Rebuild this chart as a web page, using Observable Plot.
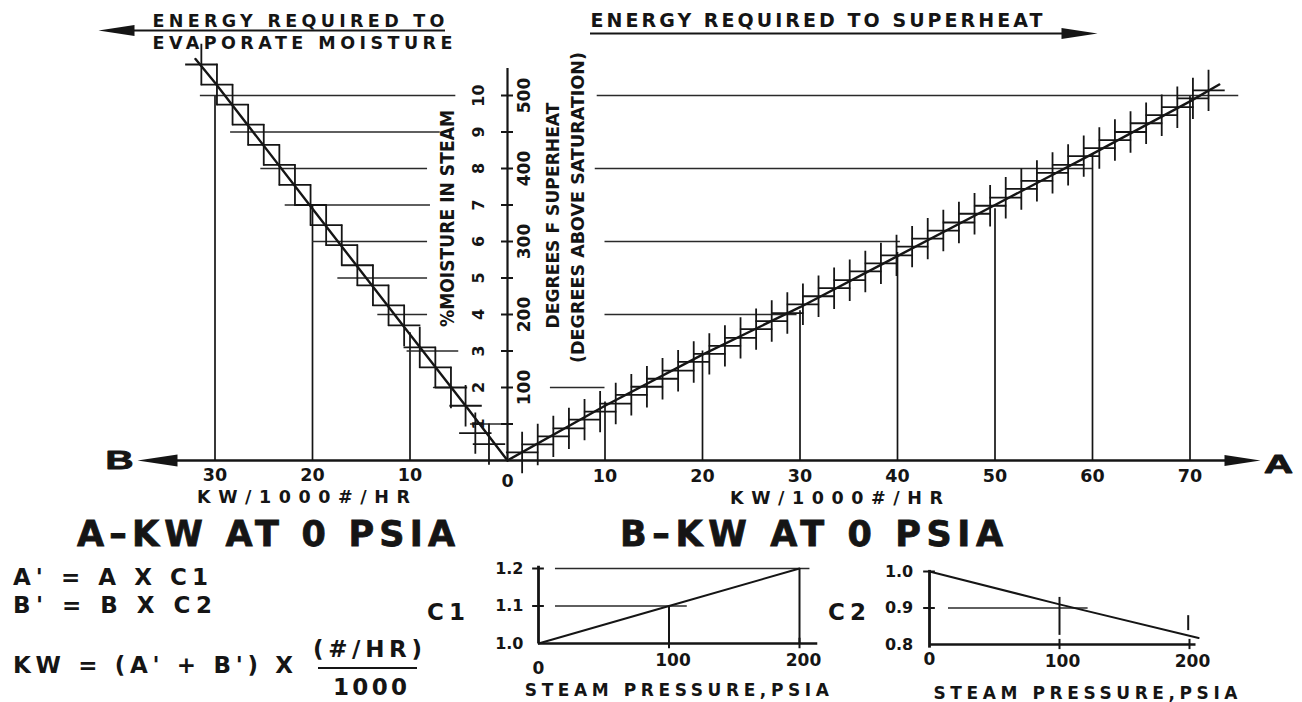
<!DOCTYPE html>
<html>
<head>
<meta charset="utf-8">
<script src="https://cdn.jsdelivr.net/npm/d3@7"></script>
<script src="https://cdn.jsdelivr.net/npm/@observablehq/plot@0.6"></script>
<style>
  html, body { margin: 0; padding: 0; background: #fff; }
  #page { position: relative; width: 1302px; height: 702px; overflow: hidden; background: #fff; }
  #page svg { position: absolute; }
  .lbl { position: absolute; white-space: nowrap; line-height: 1; font-family: "DejaVu Sans", "Liberation Sans", sans-serif; font-weight: bold; color: #151515; }
  .big { -webkit-text-stroke: 0.8px #151515; }
  .bar { position: absolute; background: #151515; }
</style>
</head>
<body>
<div id="page"></div>
<script>
// ---------------- DATA ----------------
// Right side (A): energy to superheat, KW per 1000 #/hr vs degrees F superheat
const superheatKW   = [0, 10, 20, 30, 40, 50, 60, 70, 73];
const superheatDegF = [0, 75, 145, 210, 280, 350, 420, 492, 515];
// Left side (B): energy to evaporate moisture, KW per 1000 #/hr vs % moisture
const moistureKW  = [0, 4, 10, 20, 30, 32];
const moisturePct = [0, 1.4, 3.45, 6.9, 10.35, 11.0];
// tick labels
const kwTicksA = [0, 10, 20, 30, 40, 50, 60, 70];
const kwTicksB = [10, 20, 30];
const moistureTicks = [1, 2, 3, 4, 5, 6, 7, 8, 9, 10];
const superheatTicks = [100, 200, 300, 400, 500];
// vertical reading guides (kW -> value on curve)
const guideAKW   = [10, 20, 30, 40, 50, 60, 70];
const guideADegF = [80, 150, 205, 285, 345, 420, 500];
const guideBKW   = [10, 20, 30];
const guideBPct  = [3.5, 7.0, 10.0];
// horizontal reading guides
const hGuideADegF = [100, 200, 300, 400, 500];
const hGuideAFrom = [4.4, 10, 10, 9, 9.2];
const hGuideATo   = [10, 29.7, 40.3, 60, 75];
const hGuideBPct  = [10, 9, 8, 7, 6, 5, 4, 3, 2, 1];
const hGuideBFrom = [31.5, 28.4, 25.3, 22.8, 20, 17.4, 13.3, 10.3, 7.6, 3.8];
const hGuideBTo   = [5.3, 6.9, 8.2, 7.9, 8.2, 8.2, 8.2, 5.0, 5.5, 0];
// hatch crosses along the curves
const crossAKW = [1.5,3.1,4.7,6.3,7.9,9.5,11.1,12.7,14.3,15.9,17.5,19.1,20.7,22.3,23.9,25.5,27.1,28.7,30.3,31.9,33.5,35.1,36.7,38.3,39.9,41.5,43.1,44.7,46.3,47.9,49.5,51.1,52.7,54.3,55.9,57.5,59.1,60.7,62.3,63.9,65.5,67.1,68.7,70.3,71.9];
const crossADegF = [11,22,33,44,56,67,78,90,101,112,123,135,146,157,168,180,191,202,214,225,236,247,259,270,281,293,304,315,326,338,349,360,372,383,394,405,417,428,439,450,462,473,484,496,507];
const crossBKW  = [31.4,29.8,28.2,26.6,25.0,23.4,21.8,20.2,18.6,17.0,15.4,13.8,12.2,10.6,9.0,7.4,5.8,4.3,3.3,1.9];
const crossBPct = [10.85,10.3,9.75,9.2,8.65,8.1,7.55,7.0,6.45,5.9,5.35,4.8,4.25,3.7,3.1,2.55,2.0,1.5,0.75,0.45];
// correction factor C1 vs steam pressure
const c1Pressure = [0, 100, 200];
const c1Values   = [1.0, 1.1, 1.2];
const c1Ticks    = [1.0, 1.1, 1.2];
const c1GuideLevel = [1.2, 1.1];
const c1GuideFrom  = [13, 13];
const c1GuideTo    = [208, 114];
const c1DropP = [100, 200];
const c1DropC = [1.1, 1.2];
// correction factor C2 vs steam pressure
const c2Pressure = [0, 100, 207];
const c2Values   = [1.0, 0.91, 0.818];
const c2Ticks    = [0.8, 0.9, 1.0];
const c2GuideLevel = [0.9];
const c2GuideFrom  = [14.6];
const c2GuideTo    = [122];
const c2DropP  = [100, 199];
const c2DropC1 = [0.825, 0.838];
const c2DropC2 = [0.929, 0.879];
const pressureTicks = [0, 100, 200];

// ---------------- tables ----------------
const superheat = superheatKW.map((kw, i) => ({kw, f: superheatDegF[i]}));
const moisture = moistureKW.map((kw, i) => ({kw, m: moisturePct[i]}));
const guideA = guideAKW.map((kw, i) => ({kw, f: guideADegF[i]}));
const guideB = guideBKW.map((kw, i) => ({kw, m: guideBPct[i]}));
const hGuideA = hGuideADegF.map((f, i) => ({f, from: hGuideAFrom[i], to: hGuideATo[i]}));
const hGuideB = hGuideBPct.map((m, i) => ({m, from: hGuideBFrom[i], to: hGuideBTo[i]}));
const crossA = crossAKW.map((kw, i) => ({kw, f: crossADegF[i]}));
const crossB = crossBKW.map((kw, i) => ({kw, m: crossBPct[i]}));
const c1Curve = c1Pressure.map((p, i) => ({p, c: c1Values[i]}));
const c1Guides = c1GuideLevel.map((c, i) => ({c, from: c1GuideFrom[i], to: c1GuideTo[i]}));
const c1Drops = c1DropP.map((p, i) => ({p, c: c1DropC[i]}));
const c2Curve = c2Pressure.map((p, i) => ({p, c: c2Values[i]}));
const c2Guides = c2GuideLevel.map((c, i) => ({c, from: c2GuideFrom[i], to: c2GuideTo[i]}));
const c2Drops = c2DropP.map((p, i) => ({p, c1: c2DropC1[i], c2: c2DropC2[i]}));

// ---------------- styles / layout ----------------
const INK = "#151515";
const chartFont = "'DejaVu Sans', 'Liberation Sans', sans-serif";
const X0 = 507, Y0 = 460, KX = 9.75, KY = 36.5, MAIN_H = 515;
const kx = px => (px - X0) / KX;     // page px -> kW
const my = py => (Y0 - py) / KY;     // page py -> % moisture
const DEG = 50;                      // degrees F per % moisture on the shared axis

const plusSymbol = {draw(ctx, size) {
  const r = Math.sqrt(size / Math.PI);
  ctx.moveTo(-0.9 * r, 0); ctx.lineTo(0.9 * r, 0);
  ctx.moveTo(0, -1.15 * r); ctx.lineTo(0, 1.15 * r);
}};
const arrowRight = {draw(ctx, size) {
  const r = Math.sqrt(size / Math.PI);
  ctx.moveTo(r, 0); ctx.lineTo(-r, -0.3 * r); ctx.lineTo(-r, 0.3 * r); ctx.closePath();
}};
const arrowLeft = {draw(ctx, size) {
  const r = Math.sqrt(size / Math.PI);
  ctx.moveTo(-r, 0); ctx.lineTo(r, -0.3 * r); ctx.lineTo(r, 0.3 * r); ctx.closePath();
}};

const fitWidth = {
  "ENERGY REQUIRED TO": 292, "EVAPORATE MOISTURE": 300, "ENERGY REQUIRED TO SUPERHEAT": 452,
  "KW/1000#/HR": 213, "%MOISTURE IN STEAM": 217, "DEGREES F SUPERHEAT": 226,
  "(DEGREES ABOVE SATURATION)": 311, "STEAM PRESSURE,PSIA": 304, "B": 28, "A": 29
};
const groupWidth = {"kw-ticks": s => 31, "c-ticks": s => 35, "p-ticks": s => 48};

function fit(svg) {
  svg.querySelectorAll("text").forEach(t => {
    const s = t.textContent;
    let w = fitWidth[s];
    const g = t.closest("g[aria-label]");
    const lab = g ? g.getAttribute("aria-label") : "";
    if (groupWidth[lab]) w = s.length > 1 ? groupWidth[lab](s) : null;
    if (!w) return;
    const nat = t.getComputedTextLength();
    t.setAttribute("textLength", w);
    t.setAttribute("lengthAdjust", (nat > w || s.length === 1) ? "spacingAndGlyphs" : "spacing");
  });
}

const baseStyle = {fontFamily: chartFont, fontWeight: "bold", color: INK, background: "transparent", overflow: "visible"};
const page = document.getElementById("page");

// ---------------- main nomograph ----------------
const main = Plot.plot({
  width: 1302, height: MAIN_H, margin: 0,
  x: {domain: [kx(0), kx(1302)], axis: null},
  y: {domain: [my(MAIN_H), my(0)], axis: null},
  style: baseStyle,
  marks: [
    Plot.ruleX(guideA, {x: "kw", y1: 0, y2: d => d.f / DEG, stroke: INK, strokeWidth: 1.7}),
    Plot.ruleX(guideB, {x: d => -d.kw, y1: 0, y2: "m", stroke: INK, strokeWidth: 1.7}),
    Plot.ruleY(hGuideA, {y: d => d.f / DEG, x1: "from", x2: "to", stroke: "#2a2a2a", strokeWidth: 1.4}),
    Plot.ruleY(hGuideB, {y: "m", x1: d => -d.from, x2: d => -d.to, stroke: "#2a2a2a", strokeWidth: 1.4}),
    Plot.dot(crossA, {x: "kw", y: d => d.f / DEG, symbol: plusSymbol, r: 18, fill: "none", stroke: INK, strokeWidth: 1.8}),
    Plot.dot(crossB, {x: d => -d.kw, y: "m", symbol: plusSymbol, r: 18, fill: "none", stroke: INK, strokeWidth: 1.8}),
    Plot.line(superheat, {x: "kw", y: d => d.f / DEG, stroke: INK, strokeWidth: 2.4}),
    Plot.line(moisture, {x: d => -d.kw, y: "m", stroke: INK, strokeWidth: 2.4}),
    // axes
    Plot.ruleY([0], {x1: kx(177), x2: kx(1226), stroke: INK, strokeWidth: 2.4}),
    Plot.ruleX([0], {y1: 0, y2: my(68), stroke: INK, strokeWidth: 2.2}),
    Plot.ruleY(moistureTicks, {x1: kx(501), x2: kx(513), stroke: INK, strokeWidth: 2}),
    Plot.dot([0], {x: kx(157), y: 0, symbol: arrowLeft, r: 20, fill: INK, stroke: "none"}),
    Plot.dot([0], {x: kx(1242), y: 0, symbol: arrowRight, r: 18, fill: INK, stroke: "none"}),
    // top arrows
    Plot.ruleY([0], {y: my(30), x1: kx(130), x2: kx(445), stroke: INK, strokeWidth: 2}),
    Plot.dot([0], {x: kx(116), y: my(30), symbol: arrowLeft, r: 18, fill: INK, stroke: "none"}),
    Plot.ruleY([0], {y: my(33), x1: kx(590), x2: kx(1066), stroke: INK, strokeWidth: 2}),
    Plot.dot([0], {x: kx(1079), y: my(33), symbol: arrowRight, r: 18, fill: INK, stroke: "none"}),
    // texts
    Plot.text(["ENERGY REQUIRED TO"], {x: kx(152), y: my(26), text: d => d, textAnchor: "start", lineAnchor: "bottom", fontSize: 17.5, fill: INK}),
    Plot.text(["EVAPORATE MOISTURE"], {x: kx(152), y: my(48), text: d => d, textAnchor: "start", lineAnchor: "bottom", fontSize: 17.5, fill: INK}),
    Plot.text(["ENERGY REQUIRED TO SUPERHEAT"], {x: kx(590), y: my(26), text: d => d, textAnchor: "start", lineAnchor: "bottom", fontSize: 19, fill: INK}),
    Plot.text(kwTicksA.filter(d => d > 0), {x: d => d, y: my(476), text: d => String(d), fontSize: 17.5, fill: INK, ariaLabel: "kw-ticks"}),
    Plot.text(kwTicksA.filter(d => d === 0), {x: d => d, y: my(481), text: d => String(d), fontSize: 17.5, fill: INK, ariaLabel: "kw-ticks"}),
    Plot.text(kwTicksB, {x: d => -d, y: my(475), text: d => String(d), fontSize: 17.5, fill: INK, ariaLabel: "kw-ticks"}),
    Plot.text(["KW/1000#/HR"], {x: kx(303), y: my(497), text: d => d, fontSize: 17.5, fill: INK}),
    Plot.text(["KW/1000#/HR"], {x: kx(836), y: my(498), text: d => d, fontSize: 17.5, fill: INK}),
    Plot.text(moistureTicks, {x: kx(478), y: d => d, text: d => String(d), rotate: -90, fontSize: 16, fill: INK}),
    Plot.text(superheatTicks, {x: kx(524), y: d => d / DEG, text: d => String(d), rotate: -90, fontSize: 17, fill: INK}),
    Plot.text(["%MOISTURE IN STEAM"], {x: kx(447), y: my(218), text: d => d, rotate: -90, fontSize: 19, fill: INK}),
    Plot.text(["DEGREES F SUPERHEAT"], {x: kx(553), y: my(215), text: d => d, rotate: -90, fontSize: 18.5, fill: INK}),
    Plot.text(["(DEGREES ABOVE SATURATION)"], {x: kx(578), y: my(207), text: d => d, rotate: -90, fontSize: 18.5, fill: INK}),
    Plot.text(["B"], {x: kx(119), y: 0, text: d => d, fontSize: 25, fontFamily: "Liberation Sans, Arial, sans-serif", fontWeight: 900, fill: INK, stroke: INK, strokeWidth: 0.9}),
    Plot.text(["A"], {x: kx(1278), y: my(464), text: d => d, fontSize: 26, fontFamily: "Liberation Sans, Arial, sans-serif", fontWeight: 900, fill: INK, stroke: INK, strokeWidth: 0.9})
  ]
});
main.style.left = "0px"; main.style.top = "0px";
page.appendChild(main);
fit(main);

// ---------------- C1 chart ----------------
const c1 = Plot.plot({
  width: 420, height: 162, marginLeft: 98, marginRight: 61, marginTop: 28, marginBottom: 59,
  x: {domain: [0, 200], axis: null},
  y: {domain: [1.0, 1.2], axis: null},
  style: baseStyle,
  marks: [
    Plot.ruleY(c1Guides, {y: "c", x1: "from", x2: "to", stroke: "#2a2a2a", strokeWidth: 1.7}),
    Plot.ruleX(c1Drops, {x: "p", y1: 1.0, y2: "c", stroke: INK, strokeWidth: 2}),
    Plot.line(c1Curve, {x: "p", y: "c", stroke: INK, strokeWidth: 2}),
    Plot.ruleX([0], {y1: 1.0, y2: 1.206, stroke: INK, strokeWidth: 2.8}),
    Plot.ruleY([1.0], {x1: 0, x2: 214, stroke: INK, strokeWidth: 2.4}),
    Plot.ruleY(c1Ticks.filter(d => d > 1.0), {x1: -4.5, x2: 4.5, stroke: INK, strokeWidth: 2}),
    Plot.ruleX(pressureTicks.filter(d => d > 0), {y1: 0.986, y2: 1.014, stroke: INK, strokeWidth: 2}),
    Plot.text(c1Ticks, {x: -11.5, y: d => d, text: d => d.toFixed(1), textAnchor: "end", fontSize: 16, fill: INK, ariaLabel: "c-ticks"}),
    Plot.text(pressureTicks.filter(d => d === 0), {x: d => d, y: 1.0, dy: 25, text: d => String(d), fontSize: 17, fill: INK, ariaLabel: "p-ticks"}),
    Plot.text(pressureTicks.filter(d => d > 0), {x: d => d, y: 1.0, dx: 4, dy: 17, text: d => String(d), fontSize: 17, fill: INK, ariaLabel: "p-ticks"}),
    Plot.text(["STEAM PRESSURE,PSIA"], {x: 106, y: 1.0, dy: 47, text: d => d, fontSize: 17, fill: INK})
  ]
});
c1.style.left = "440px"; c1.style.top = "540px";
page.appendChild(c1);
fit(c1);

// ---------------- C2 chart ----------------
const c2 = Plot.plot({
  width: 462, height: 162, marginLeft: 89, marginRight: 113, marginTop: 31, marginBottom: 58,
  x: {domain: [0, 200], axis: null},
  y: {domain: [0.8, 1.0], axis: null},
  style: baseStyle,
  marks: [
    Plot.ruleY(c2Guides, {y: "c", x1: "from", x2: "to", stroke: "#2a2a2a", strokeWidth: 1.7}),
    Plot.ruleX(c2Drops, {x: "p", y1: "c1", y2: "c2", stroke: INK, strokeWidth: 2}),
    Plot.line(c2Curve, {x: "p", y: "c", stroke: INK, strokeWidth: 2}),
    Plot.ruleX([0], {y1: 0.79, y2: 1.003, stroke: INK, strokeWidth: 2.8}),
    Plot.ruleY([0.8], {x1: 0, x2: 205, stroke: INK, strokeWidth: 2.4}),
    Plot.ruleY(c2Ticks.filter(d => d > 0.8), {x1: -4.5, x2: 4.5, stroke: INK, strokeWidth: 2}),
    Plot.ruleX(pressureTicks.filter(d => d > 0), {y1: 0.786, y2: 0.814, stroke: INK, strokeWidth: 2}),
    Plot.text(c2Ticks, {x: -12.5, y: d => d, text: d => d.toFixed(1), textAnchor: "end", fontSize: 16, fill: INK, ariaLabel: "c-ticks"}),
    Plot.text(pressureTicks.filter(d => d === 0), {x: d => d, y: 0.8, dy: 15, text: d => String(d), fontSize: 17, fill: INK, ariaLabel: "p-ticks"}),
    Plot.text(pressureTicks.filter(d => d > 0), {x: d => d, y: 0.8, dx: 3, dy: 17, text: d => String(d), fontSize: 17, fill: INK, ariaLabel: "p-ticks"}),
    Plot.text(["STEAM PRESSURE,PSIA"], {x: 120, y: 0.8, dy: 49, text: d => d, fontSize: 17, fill: INK})
  ]
});
c2.style.left = "840px"; c2.style.top = "540px";
page.appendChild(c2);
fit(c2);

// ---------------- titles and formulas ----------------
function addLabel(txt, left, baseline, fs, width, cls) {
  const el = document.createElement("div");
  el.className = "lbl" + (cls ? " " + cls : "");
  el.textContent = txt;
  el.style.fontSize = fs + "px";
  el.style.left = left + "px";
  el.style.top = (baseline - 0.846 * fs) + "px";
  page.appendChild(el);
  const n = [...txt].length;
  if (width && n > 1) {
    const nat = el.getBoundingClientRect().width;
    el.style.letterSpacing = ((width - nat) / (n - 1)) + "px";
  }
  return el;
}
addLabel("A\u2013KW AT 0 PSIA", 77, 547, 35, 378, "big");
addLabel("B\u2013KW AT 0 PSIA", 620, 547, 35, 383, "big");
addLabel("A' = A X C1", 13, 585, 23, 195);
addLabel("B' = B X C2", 13, 613, 23, 199);
addLabel("KW = (A' + B') X", 13, 673, 23, 280);
addLabel("(#/HR)", 313, 657, 23, 109);
addLabel("1000", 333, 695, 23, 74);
addLabel("C1", 427, 620, 23, 38);
addLabel("C2", 828, 620, 23, 38);
const bar = document.createElement("div");
bar.className = "bar";
Object.assign(bar.style, {left: "318px", top: "666.5px", width: "99px", height: "2.5px"});
page.appendChild(bar);
</script>
</body>
</html>
